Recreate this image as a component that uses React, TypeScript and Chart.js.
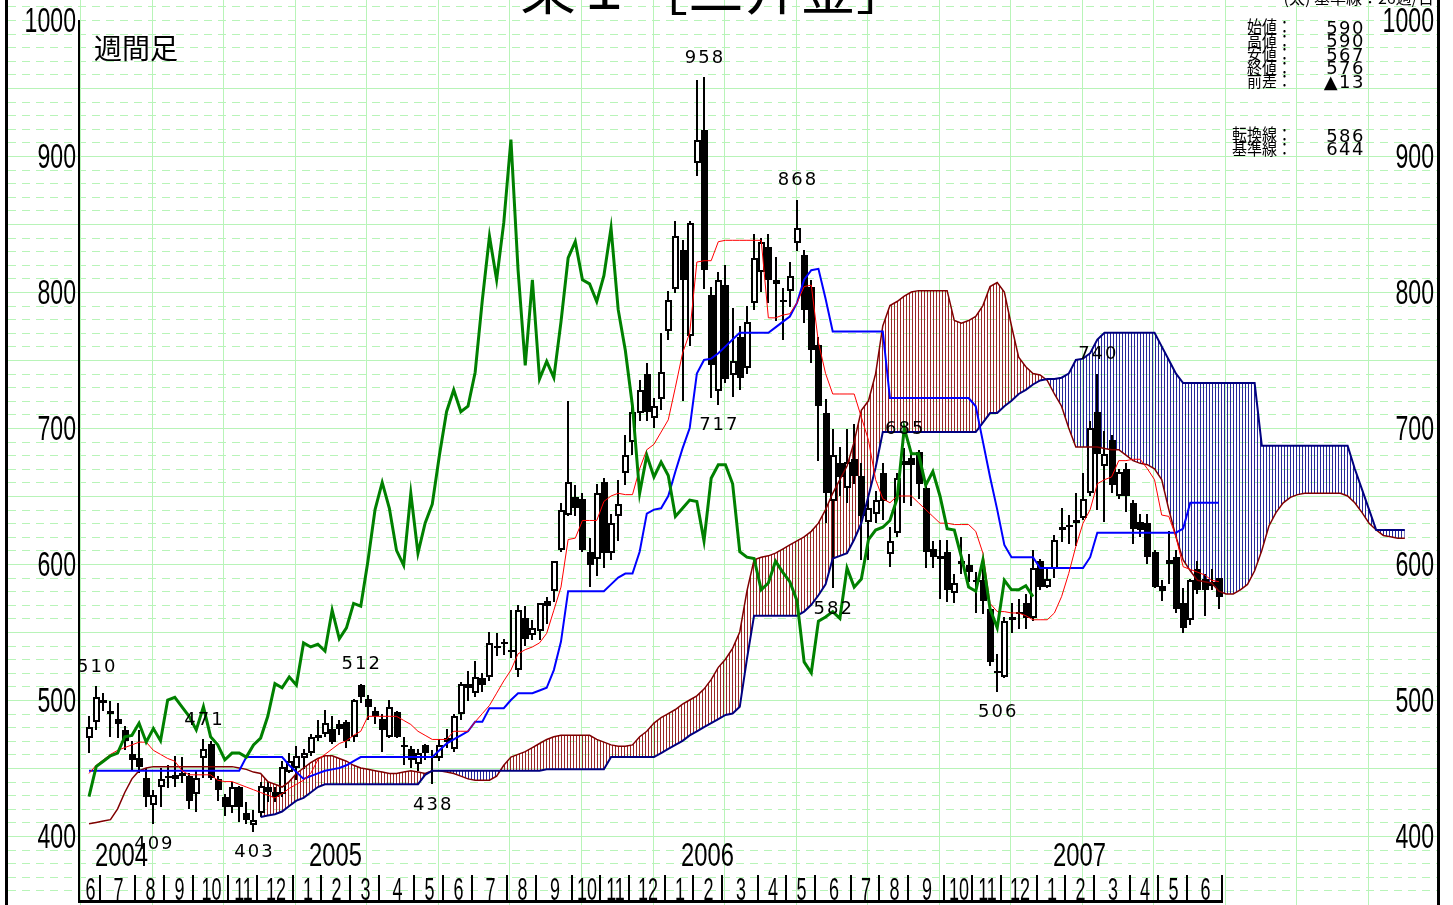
import React, { useEffect, useRef } from 'react';
import { Chart, registerables } from 'chart.js';
Chart.register(...registerables);

const W = 1453;
const H = 905;

// ---- weekly candles (index 0 = week of 2004-06-18) ----
const opens = [472,484,500,492,486,478,460,457,443,423,436,443,442,446,444,431,457,468,442,429,421,436,417,408,417,436,432,431,447,450,457,461,472,475,479,482,484,473,511,501,492,486,473,491,467,464,453,467,459,457,469,464,490,512,505,516,517,540,543,537,522,560,548,551,573,580,610,636,649,648,609,604,660,608,635,667,690,711,740,707,721,771,802,831,768,895,919,798,727,805,739,767,744,792,815,833,809,794,801,836,827,804,761,711,646,674,656,677,665,631,637,667,607,623,676,678,682,656,611,606,609,579,600,599,588,588,567,521,517,559,563,571,560,602,583,596,627,629,630,634,652,712,672,691,650,670,645,631,630,609,584,600,605,571,559,596,589,587,590];
const highs = [488,510,505,499,498,481,470,478,450,434,450,452,459,458,446,448,471,470,444,431,440,437,425,419,440,440,436,455,461,466,464,475,485,493,488,485,485,501,512,504,495,490,500,492,473,466,464,468,463,471,479,490,513,521,529,520,550,549,545,566,570,569,559,571,576,602,645,720,658,652,619,659,663,637,662,695,717,735,748,722,770,801,852,838,852,956,958,804,815,820,788,775,790,843,840,843,826,803,822,868,831,809,767,721,699,686,699,703,674,649,654,674,627,667,685,682,684,658,617,618,618,593,620,607,594,603,570,534,561,571,574,578,610,604,596,621,641,636,652,667,705,740,698,695,670,674,647,637,637,610,588,624,610,582,589,602,593,596,590];
const lows = [461,478,492,473,472,463,448,446,421,409,421,435,436,439,420,418,443,441,426,415,417,410,409,403,414,425,425,429,446,441,449,459,470,473,468,474,465,469,498,485,482,462,472,472,452,450,448,456,438,455,465,462,485,499,502,506,514,532,533,531,517,540,544,544,556,572,609,635,635,609,583,591,597,603,617,658,680,705,705,700,713,765,799,720,760,885,802,722,717,733,723,728,740,787,800,792,779,765,789,830,777,748,676,630,582,650,645,659,603,603,630,632,598,620,645,643,648,597,597,574,572,571,593,587,564,563,525,506,516,549,552,552,558,581,582,590,616,615,613,632,650,640,631,652,648,638,615,620,600,582,573,585,564,549,555,578,562,581,567];
const closes = [480,502,498,490,482,470,456,451,429,430,442,444,445,444,426,443,464,443,434,421,436,421,412,412,437,432,429,451,455,459,461,473,474,483,469,479,470,500,502,495,488,478,495,473,467,456,461,461,458,467,472,488,512,509,517,511,542,539,541,536,566,545,553,571,569,602,640,660,641,610,599,652,608,630,644,680,712,728,712,716,741,794,841,809,851,912,816,746,809,736,749,737,778,825,837,809,806,793,812,847,787,757,716,652,680,664,675,665,635,641,647,646,617,663,673,673,659,609,605,604,581,586,602,594,587,573,528,520,558,561,565,560,597,583,589,618,625,627,632,648,700,681,681,658,668,650,626,625,605,583,580,603,567,553,588,581,581,584,576];

// ---- ichimoku lines ----
const tenkan = [446,452,456,460,463,465,467,469,469,463,460,457,455,448,445,445,445,445,441,440,440,438,436,434,432,430,428,431,435,438,441,446,456,460,464,468,470,474,477,488,488,488,488,488,485,482,477,474,471,471,471,477,477,477,484,490,496,505,514,522,534,537,539,542,549,566,583,618,619,632,632,632,646,650,652,651,651,670,684,688,697,706,730,755,770,822,823,823,837,838,838,838,838,838,838,781,781,783,784,792,804,805,763,740,725,725,725,725,708,691,662,648,645,650,650,650,645,640,635,630,630,629,629,629,624,608,571,565,565,564,564,562,559,559,559,564,576,593,613,630,640,659,662,664,676,676,677,677,670,662,636,635,620,598,596,594,592,588,587];
const kijun = [448,448,448,448,448,448,448,448,448,448,448,448,448,448,448,448,448,448,448,448,448,448,458,458,458,458,458,458,452,447,442,444,446,448,449,450,452,455,458,458,458,458,458,458,458,458,458,458,458,463,468,471,474,477,484,484,494,494,494,500,505,505,505,507,509,522,543,580,580,580,580,580,580,585,590,593,593,609,637,640,641,650,668,685,700,740,750,751,755,760,765,770,770,770,770,770,774,778,782,792,809,816,817,795,771,771,771,771,771,771,771,771,722,722,722,722,722,722,722,722,722,722,722,722,716,690,664,640,614,605,605,605,605,597,597,597,597,597,597,597,605,623,623,623,623,623,623,623,623,623,623,623,623,626,645,645,645,645,645];
const senkouA = [409,410,411,412,420,432,442,448,450,451,451,451,451,451,451,451,451,451,451,451,451,450,449,447,446,440,438,436,440,446,450,454,457,459,459,457,455,452,450,449,448,447,446,446,447,448,447,446,448,448,447,446,444,442,441,441,441,444,452,458,460,462,465,468,471,473,474,474,474,474,474,471,469,467,466,466,467,473,477,483,487,490,493,497,500,503,508,515,524,530,538,550,580,603,605,606,608,611,614,617,620,624,630,640,652,662,672,690,713,720,740,775,790,793,797,800,801,801,801,801,801,779,777,779,782,790,804,807,800,775,752,745,740,739,735,725,716,700,686,686,686,686,685,684,684,680,676,674,673,670,662,640,620,603,595,588,587,586,580,578,578,581,585,595,610,628,638,645,649,651,652,652,652,652,652,652,650,645,638,630,625,621,620,619,619];
const SENKOU_B_START = 24;
const senkouB = [414,415,416,418,422,426,428,432,436,438,438,438,438,438,438,438,438,438,438,438,438,438,438,445,448,448,448,448,448,448,448,448,448,448,448,448,448,448,448,448,449,449,449,449,449,449,449,449,449,458,458,458,458,458,458,458,461,464,467,470,474,477,480,483,486,489,490,495,530,562,562,562,562,562,562,562,565,570,577,585,604,606,608,618,630,650,671,697,697,697,697,697,697,697,697,697,697,697,697,697,697,704,711,711,716,720,725,728,732,735,736,736,737,740,750,751,755,765,770,770,770,770,770,770,770,770,760,750,740,733,733,733,733,733,733,733,733,733,733,733,687,687,687,687,687,687,687,687,687,687,687,687,687,670,655,640,625,625,625,625,625];
const CHIKOU_SHIFT = 26;

// ---- axis text ----
const yTickValues = [1000, 900, 800, 700, 600, 500, 400];
const monthStartIdx = [2,7,11,15,20,24,29,33,37,41,46,50,54,59,63,68,72,76,81,85,89,94,98,102,107,111,115,120,124,128,133,137,141,146,150,154];
const monthLabels = ['6','7','8','9','10','11','12','1','2','3','4','5','6','7','8','9','10','11','12','1','2','3','4','5','6','7','8','9','10','11','12','1','2','3','4','5','6'];
const yearLabels = ['2004', '2005', '2006', '2007'];
const yearStartIdx = [-1.4, 29, 81, 133];

// ---- annotations ----
const peakIdx = [86, 99, 88, 114, 104, 127, 141, 1, 16, 9, 23, 38, 48];
const peakVal = [958, 868, 717, 685, 582, 506, 740, 510, 471, 409, 403, 512, 438];
const peakIsHigh = [true, true, false, true, false, false, true, true, true, false, false, true, false];

const infoLabels = ['始値：', '高値：', '安値：', '終値：', '前差：'];
const infoValues = ['590', '590', '567', '576', '▲13'];
const lineLabels = ['転換線：', '基準線：'];
const lineValues = ['586', '644'];

const X_MIN = -1.4, X_MAX = 188.5, Y_MIN = 351.47, Y_MAX = 1014.7;
const LAST_IDX = 158;

function hatch(color: string) {
  const c = document.createElement('canvas');
  c.width = 3; c.height = 4;
  const g = c.getContext('2d')!;
  g.fillStyle = color;
  g.fillRect(0, 0, 1, 4);
  return g.createPattern(c, 'repeat')!;
}

function txt(ctx: CanvasRenderingContext2D, s: string, x: number, y: number, font: string,
  align: CanvasTextAlign = 'left', baseline: CanvasTextBaseline = 'alphabetic', sx = 1, spacing = '0px', sy = 1) {
  ctx.save();
  ctx.font = font;
  ctx.textAlign = align;
  ctx.textBaseline = baseline;
  (ctx as any).letterSpacing = spacing;
  ctx.fillStyle = '#000';
  ctx.translate(x, y);
  ctx.scale(sx, sy);
  ctx.fillText(s, 0, 0);
  ctx.restore();
}

const pts = (arr: number[], start = 0) => arr.map((y, k) => ({ x: k + start, y }));

export default function App() {
  const ref = useRef<HTMLCanvasElement>(null);
  useEffect(() => {
    const canvas = ref.current!;
    const redHatch = hatch('#9a2626');
    const blueHatch = hatch('#26269a');
    const GRID = '#b8f4b8';

    const plugin = {
      id: 'ichimokuDecor',
      beforeDraw(chart: any) {
        const ctx: CanvasRenderingContext2D = chart.ctx;
        const xs = chart.scales.x, ys = chart.scales.y;
        ctx.save();
        ctx.fillStyle = '#fff';
        ctx.fillRect(0, 0, W, H);
        ctx.strokeStyle = GRID;
        ctx.lineWidth = 1;
        for (let v = 360; v <= 1010; v += 10) {
          const y = Math.round(ys.getPixelForValue(v)) + 0.5;
          ctx.setLineDash(v % 50 === 0 && v !== 1000 ? [] : [8, 6]);
          ctx.beginPath(); ctx.moveTo(8, y); ctx.lineTo(1437, y); ctx.stroke();
        }
        ctx.setLineDash([]);
        for (let gi = -1.2; gi < X_MAX; gi += 10) {
          const x = Math.round(xs.getPixelForValue(gi)) + 0.5;
          ctx.beginPath(); ctx.moveTo(x, 0); ctx.lineTo(x, H); ctx.stroke();
        }
        ctx.restore();
      },
      beforeDatasetsDraw(chart: any) {
        const ctx: CanvasRenderingContext2D = chart.ctx;
        const xs = chart.scales.x, ys = chart.scales.y;
        ctx.save();
        for (let i = 0; i < closes.length; i++) {
          const x = Math.round(xs.getPixelForValue(i));
          const yH = Math.round(ys.getPixelForValue(highs[i]));
          const yL = Math.round(ys.getPixelForValue(lows[i]));
          const yO = Math.round(ys.getPixelForValue(opens[i]));
          const yC = Math.round(ys.getPixelForValue(closes[i]));
          ctx.fillStyle = '#000';
          ctx.fillRect(x - 1, yH, 2, Math.max(1, yL - yH));
          const top = Math.min(yO, yC), bot = Math.max(yO, yC);
          const h = Math.max(2, bot - top);
          ctx.fillStyle = '#000';
          ctx.fillRect(x - 3, top, 7, h);
          if (closes[i] > opens[i] && h > 3) {
            ctx.fillStyle = '#fff';
            ctx.fillRect(x - 1, top + 2, 3, h - 4);
          }
        }
        ctx.restore();
      },
      afterDraw(chart: any) {
        const ctx: CanvasRenderingContext2D = chart.ctx;
        const xs = chart.scales.x, ys = chart.scales.y;
        ctx.save();
        ctx.fillStyle = '#000';
        // frame
        ctx.fillRect(5, 0, 3, H);
        ctx.fillRect(1437, 0, 3, H);
        ctx.fillRect(78, 20, 2, 882);
        const endX = Math.round(xs.getPixelForValue(LAST_IDX + 0.5));
        ctx.fillRect(78, 900, endX - 78 + 1, 3);
        // month separators and labels
        const bounds = [79, ...monthStartIdx.map(m => Math.round(xs.getPixelForValue(m - 0.5))), endX];
        for (let k = 1; k < bounds.length; k++) ctx.fillRect(bounds[k] - 1, 875, 2, 26);
        for (let k = 0; k < monthLabels.length; k++) {
          const cx = (bounds[k] + bounds[k + 1]) / 2 + 1;
          txt(ctx, monthLabels[k], cx, 900, '31px "Liberation Sans"', 'center', 'alphabetic', 0.58);
        }
        // years
        yearLabels.forEach((s, k) => {
          const x0 = k === 0 ? 79 : Math.round(xs.getPixelForValue(yearStartIdx[k] - 0.5));
          txt(ctx, s, x0 + 16, 866, '33.5px "Liberation Sans"', 'left', 'alphabetic', 0.71);
        });
        // y labels
        yTickValues.forEach(v => {
          const y = ys.getPixelForValue(v) + 12.5;
          txt(ctx, String(v), 76, y, '35px "Liberation Sans"', 'right', 'alphabetic', 0.66);
          txt(ctx, String(v), 1434, y, '35px "Liberation Sans"', 'right', 'alphabetic', 0.66);
        });
        // peak annotations
        peakIdx.forEach((pi, k) => {
          const x = xs.getPixelForValue(pi) + 1;
          const yv = ys.getPixelForValue(peakVal[k]);
          const cy = peakIsHigh[k] ? yv - 21 : yv + 19;
          txt(ctx, String(peakVal[k]), x, cy + 6.5, '18px "DejaVu Sans"', 'center', 'alphabetic', 1, '2px');
        });
        // titles
        txt(ctx, '東１［三井金］', 520, 9, '56px "Noto Sans CJK JP"', 'left', 'alphabetic');
        txt(ctx, '(太) 基準線：26週/日', 1434, 4, '16px "Noto Sans CJK JP"', 'right', 'alphabetic');
        txt(ctx, '週間足', 94, 48, '28px "Noto Sans CJK JP"', 'left', 'middle');
        // info panel
        infoLabels.forEach((s, k) => {
          const y = 27 + k * 13.5;
          txt(ctx, s, 1292, y, '15px "Noto Sans CJK JP"', 'right', 'middle', 1, '0px', 1.1);
          txt(ctx, infoValues[k], 1365, y + 6.5, '18px "DejaVu Sans"', 'right', 'alphabetic', 1, '1.5px');
        });
        lineLabels.forEach((s, k) => {
          const y = 135 + k * 13.5;
          txt(ctx, s, 1292, y, '15px "Noto Sans CJK JP"', 'right', 'middle', 1, '0px', 1.1);
          txt(ctx, lineValues[k], 1365, y + 6.5, '18px "DejaVu Sans"', 'right', 'alphabetic', 1, '1.5px');
        });
        ctx.restore();
      },
    };

    const line = (data: any[], color: string, width: number, order: number, extra: any = {}) => ({
      type: 'line', data, borderColor: color, borderWidth: width, pointRadius: 0, tension: 0,
      fill: false, order, ...extra,
    });

    const chart = new Chart(canvas, {
      type: 'line',
      data: {
        datasets: [
          line(pts(closes.slice(CHIKOU_SHIFT)), '#008000', 3, 0),
          line(pts(tenkan), '#ff0000', 1, 1),
          line(pts(kijun), '#0000ff', 2, 2),
          line(pts(senkouB, SENKOU_B_START), '#000080', 2, 3),
          line(pts(senkouA), '#800000', 1.5, 4),
          line(pts(senkouA.slice(SENKOU_B_START), SENKOU_B_START), 'rgba(0,0,0,0)', 0, 5,
            { fill: { target: 3, above: redHatch, below: blueHatch } }),
        ] as any,
      },
      options: {
        responsive: false,
        animation: false,
        devicePixelRatio: 1,
        events: [],
        layout: { padding: { left: 79, right: W - 1437, top: 0, bottom: H - 902 } },
        scales: {
          x: { type: 'linear', min: X_MIN, max: X_MAX, display: false, offset: false },
          y: { type: 'linear', min: Y_MIN, max: Y_MAX, display: false },
        },
        plugins: {
          legend: { display: false },
          tooltip: { enabled: false },
          filler: { drawTime: 'beforeDatasetsDraw' } as any,
        },
      } as any,
      plugins: [plugin as any],
    });
    return () => chart.destroy();
  }, []);

  return (
    <div style={{ position: 'absolute', left: 0, top: 0, width: W, height: H }}>
      <canvas ref={ref} width={W} height={H} style={{ display: 'block', width: W, height: H }} />
    </div>
  );
}
